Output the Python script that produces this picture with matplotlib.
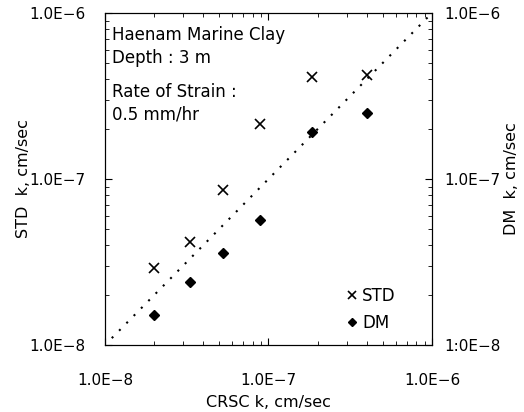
import matplotlib.pyplot as plt
from matplotlib.ticker import LogLocator, NullFormatter, FixedLocator, FixedFormatter

plt.rcParams['font.family'] = ['DejaVu Sans']

# CRSC permeability (x) against STD and DM permeability (y), cm/sec
crsc_k = [2.0e-8, 3.3e-8, 5.3e-8, 8.9e-8, 1.85e-7, 4.0e-7]
std_k = [2.9e-8, 4.2e-8, 8.6e-8, 2.14e-7, 4.1e-7, 4.2e-7]
dm_k = [1.52e-8, 2.4e-8, 3.6e-8, 5.7e-8, 1.92e-7, 2.5e-7]

line_k = [1.1e-8, 1.0e-6]  # 1:1 line
tick_vals = [1e-8, 1e-7, 1e-6]
tick_labels = ['1.0E\u22128', '1.0E\u22127', '1.0E\u22126']
right_labels = ['1:0E\u22128', '1.0E\u22127', '1.0E\u22126']

fig = plt.figure(figsize=(5.24, 4.12), dpi=100)
ax = fig.add_axes([0.2004, 0.1626, 0.624, 0.806])

ax.plot(line_k, line_k, linestyle=(0, (1, 4)), color='black', linewidth=1.5)
ax.plot(crsc_k, std_k, linestyle='none', marker='x', markersize=7,
        markeredgewidth=1.2, color='black', label='STD')
ax.plot(crsc_k, dm_k, linestyle='none', marker='D', markersize=5.5,
        color='black', label='DM')

ax.set_xscale('log')
ax.set_yscale('log')
ax.set_xlim(1e-8, 1e-6)
ax.set_ylim(1e-8, 1e-6)

for a in (ax.xaxis, ax.yaxis):
    a.set_major_locator(FixedLocator(tick_vals))
    a.set_major_formatter(FixedFormatter(tick_labels))
    a.set_minor_locator(LogLocator(base=10, subs=range(2, 10)))
    a.set_minor_formatter(NullFormatter())

ax.tick_params(which='both', direction='in', top=True, labelsize=11)
ax.tick_params(which='major', length=5)
ax.tick_params(which='minor', length=3)
ax.tick_params(axis='x', pad=20)
ax.tick_params(axis='y', pad=14)

ax.set_xlabel('CRSC k, cm/sec', fontsize=11.5, labelpad=5)
ax.set_ylabel('STD  k, cm/sec', fontsize=11.5, labelpad=-1)

ax2 = ax.twinx()
ax2.set_yscale('log')
ax2.set_ylim(1e-8, 1e-6)
ax2.yaxis.set_major_locator(FixedLocator(tick_vals))
ax2.yaxis.set_major_formatter(FixedFormatter(right_labels))
ax2.yaxis.set_minor_locator(LogLocator(base=10, subs=range(2, 10)))
ax2.yaxis.set_minor_formatter(NullFormatter())
ax2.tick_params(which='both', direction='in', labelsize=11, pad=9)
ax2.tick_params(which='major', length=5)
ax2.tick_params(which='minor', length=3)
ax2.set_ylabel('DM  k, cm/sec', fontsize=11.5, labelpad=2)

ax.text(0.02, 0.96, 'Haenam Marine Clay\nDepth : 3 m', transform=ax.transAxes,
        fontsize=12, va='top', ha='left', linespacing=1.35)
ax.text(0.02, 0.79, 'Rate of Strain :\n0.5 mm/hr', transform=ax.transAxes,
        fontsize=12, va='top', ha='left', linespacing=1.35)

ax.legend(loc='lower right', frameon=False, fontsize=12, handlelength=0.6,
          handletextpad=0.3, borderaxespad=0.6, labelspacing=0.5,
          markerscale=0.8, bbox_to_anchor=(0.94, -0.01))

fig.savefig('out.png', dpi=100)
